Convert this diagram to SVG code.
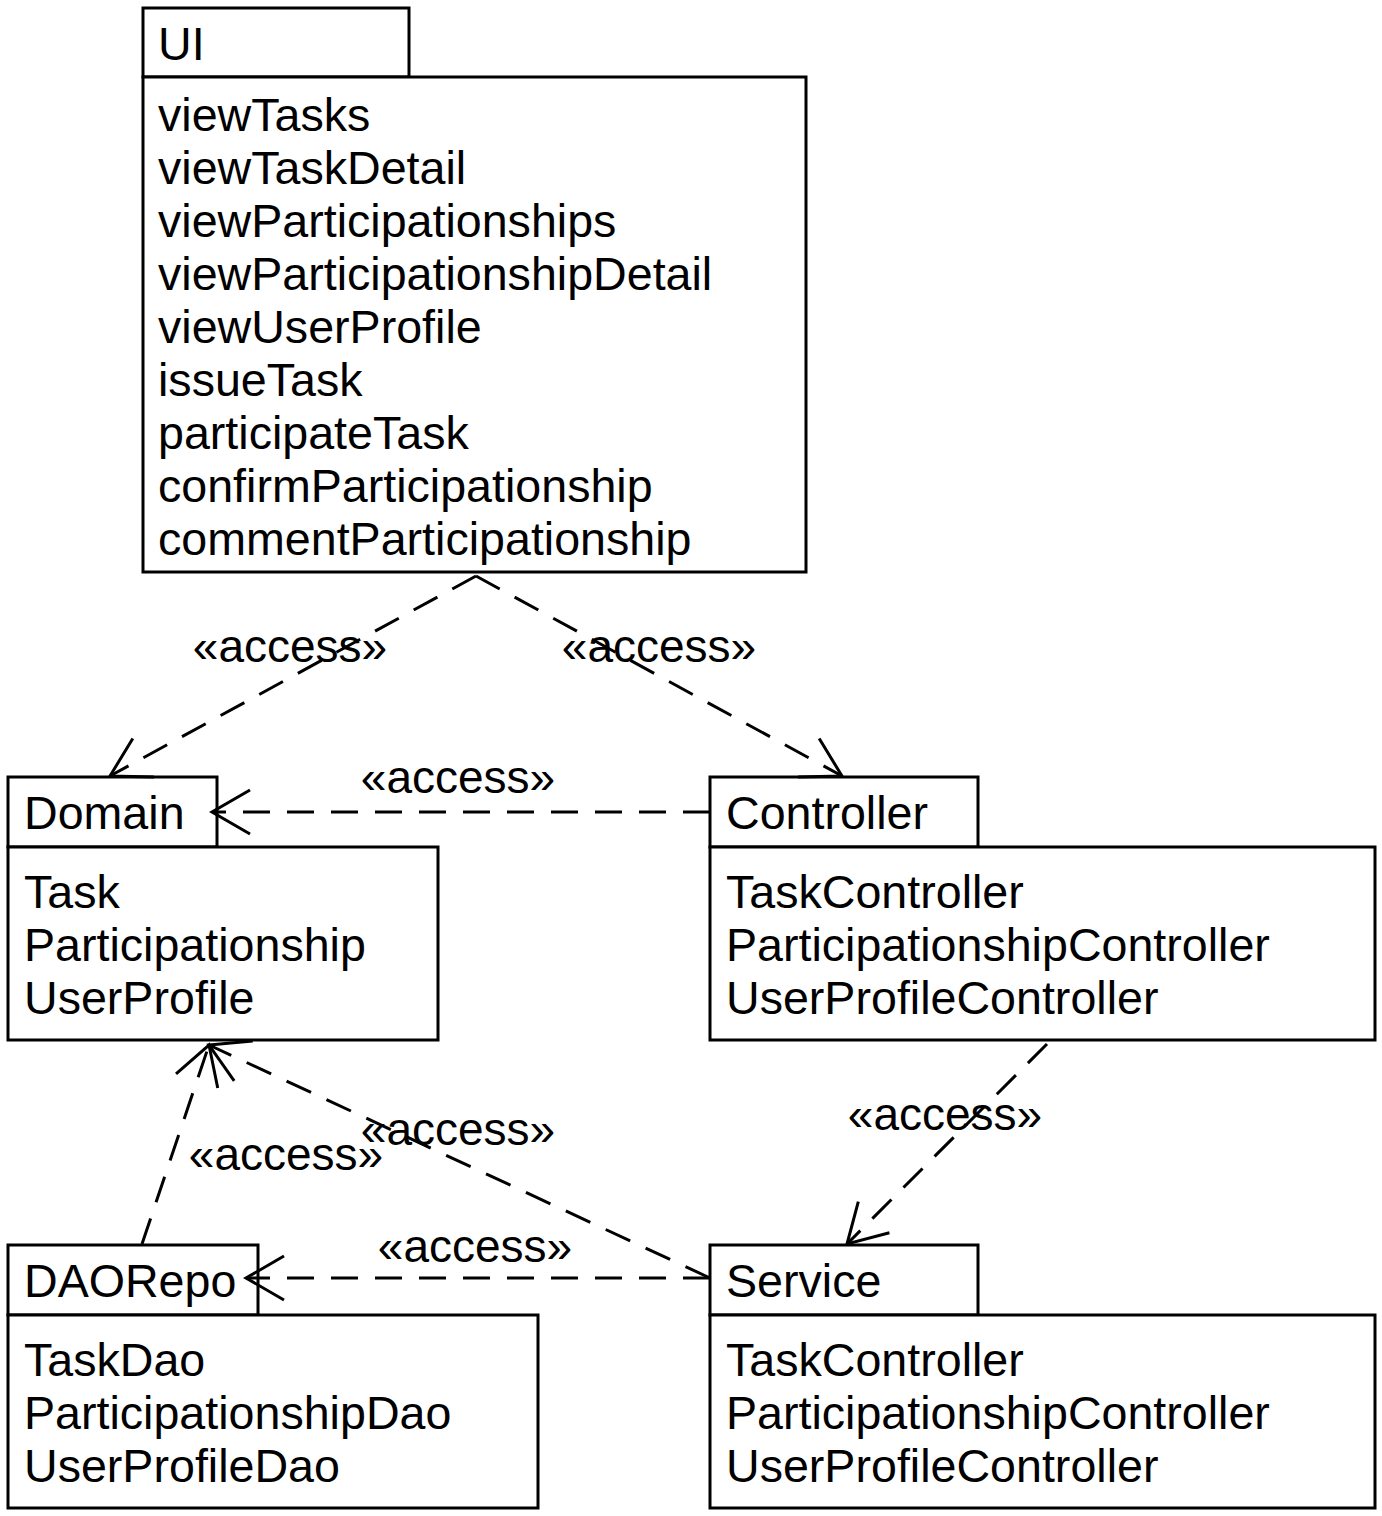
<svg xmlns="http://www.w3.org/2000/svg" width="1382" height="1516" viewBox="0 0 1382 1516">
<style>
.box{fill:#fff;stroke:#000;stroke-width:3}
text{font-family:"Liberation Sans",Arial,Helvetica,sans-serif;font-size:46.6px;fill:#000}
.lbl{text-anchor:middle;font-size:46px}
.dep{fill:none;stroke:#000;stroke-width:3;stroke-dasharray:27 17}
</style>
<defs>
<marker id="open" markerUnits="userSpaceOnUse" orient="auto" refX="0" refY="0" markerWidth="50" markerHeight="50" overflow="visible">
<path d="M -38 -22 L 0 0 L -38 22" fill="none" stroke="#000" stroke-width="3" stroke-dasharray="none"/>
</marker>
</defs>
<rect width="1382" height="1516" fill="#fff"/>
<g id="UI">
<rect class="box" x="143" y="8" width="266" height="69"/>
<rect class="box" x="143" y="77" width="663" height="495"/>
<text x="158" y="60">UI</text>
<text x="158" y="131">viewTasks</text>
<text x="158" y="184">viewTaskDetail</text>
<text x="158" y="237">viewParticipationships</text>
<text x="158" y="290">viewParticipationshipDetail</text>
<text x="158" y="343">viewUserProfile</text>
<text x="158" y="396">issueTask</text>
<text x="158" y="449">participateTask</text>
<text x="158" y="502">confirmParticipationship</text>
<text x="158" y="555">commentParticipationship</text>
</g>
<g id="Domain">
<rect class="box" x="8" y="777" width="209" height="70"/>
<rect class="box" x="8" y="847" width="430" height="193"/>
<text x="24" y="829">Domain</text>
<text x="24" y="908">Task</text>
<text x="24" y="961">Participationship</text>
<text x="24" y="1014">UserProfile</text>
</g>
<g id="Controller">
<rect class="box" x="710" y="777" width="268" height="70"/>
<rect class="box" x="710" y="847" width="665" height="193"/>
<text x="726" y="829">Controller</text>
<text x="726" y="908">TaskController</text>
<text x="726" y="961">ParticipationshipController</text>
<text x="726" y="1014">UserProfileController</text>
</g>
<g id="DAORepo">
<rect class="box" x="8" y="1245" width="250" height="70"/>
<rect class="box" x="8" y="1315" width="530" height="193"/>
<text x="24" y="1297">DAORepo</text>
<text x="24" y="1376">TaskDao</text>
<text x="24" y="1429">ParticipationshipDao</text>
<text x="24" y="1482">UserProfileDao</text>
</g>
<g id="Service">
<rect class="box" x="710" y="1245" width="268" height="70"/>
<rect class="box" x="710" y="1315" width="665" height="193"/>
<text x="726" y="1297">Service</text>
<text x="726" y="1376">TaskController</text>
<text x="726" y="1429">ParticipationshipController</text>
<text x="726" y="1482">UserProfileController</text>
</g>
<g id="connectors">
<path class="dep" d="M 476 576 L 110 776" marker-end="url(#open)"/>
<path class="dep" d="M 476 576 L 842 776" marker-end="url(#open)"/>
<path class="dep" d="M 710 812 L 212 812" marker-end="url(#open)"/>
<path class="dep" d="M 1047 1044 L 847 1244" marker-end="url(#open)"/>
<path class="dep" d="M 142 1244 L 209 1045" marker-end="url(#open)"/>
<path class="dep" d="M 710 1278 L 209 1045" marker-end="url(#open)"/>
<path class="dep" d="M 710 1278 L 246 1278" marker-end="url(#open)"/>
<text class="lbl" x="290" y="662">«access»</text>
<text class="lbl" x="659" y="662">«access»</text>
<text class="lbl" x="458" y="793">«access»</text>
<text class="lbl" x="945" y="1130">«access»</text>
<text class="lbl" x="286" y="1170">«access»</text>
<text class="lbl" x="458" y="1145">«access»</text>
<text class="lbl" x="475" y="1262">«access»</text>
</g>
</svg>
